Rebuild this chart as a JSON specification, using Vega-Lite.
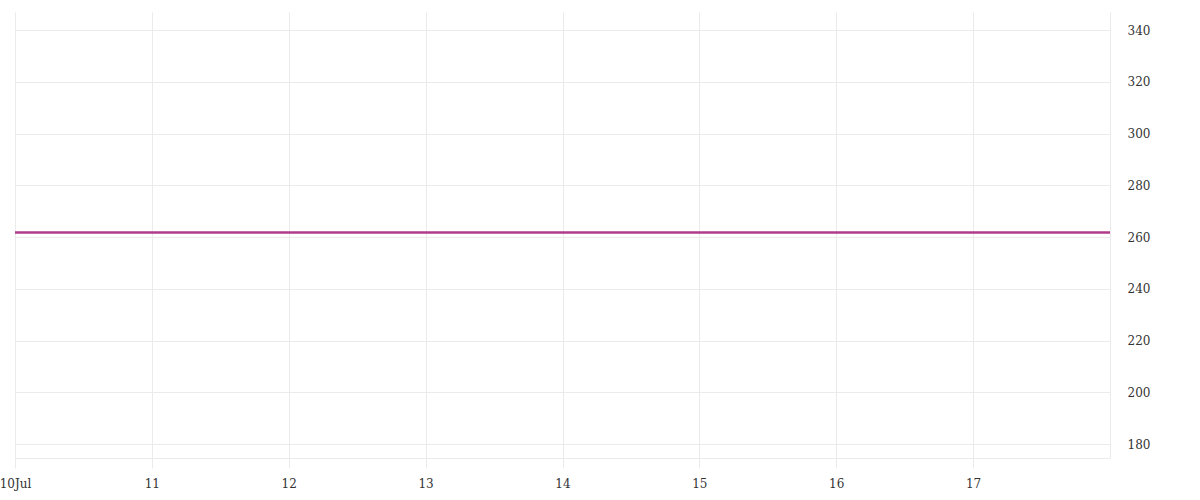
{
  "$schema": "https://vega.github.io/schema/vega-lite/v6.json",
  "width": 1095,
  "height": 446,
  "padding": {"left": 15, "top": 12, "right": 90, "bottom": 42},
  "autosize": {"type": "none"},
  "background": "white",
  "config": {
    "view": {"stroke": null},
    "font": "DejaVu Serif",
    "axis": {
      "labelFont": "DejaVu Serif",
      "labelFontSize": 12,
      "labelColor": "#333333",
      "gridColor": "#ebebeb",
      "domainColor": "#ebebeb",
      "tickColor": "#ebebeb"
    }
  },
  "data": {
    "values": [
      {"date": "2023-07-10T00:00:00", "value": 261.8},
      {"date": "2023-07-11T00:00:00", "value": 261.8},
      {"date": "2023-07-12T00:00:00", "value": 261.8},
      {"date": "2023-07-13T00:00:00", "value": 261.8},
      {"date": "2023-07-14T00:00:00", "value": 261.8},
      {"date": "2023-07-15T00:00:00", "value": 261.8},
      {"date": "2023-07-16T00:00:00", "value": 261.8},
      {"date": "2023-07-17T00:00:00", "value": 261.8},
      {"date": "2023-07-18T00:00:00", "value": 261.8}
    ]
  },
  "mark": {"type": "line", "color": "#b03a8c", "strokeWidth": 2.5},
  "encoding": {
    "x": {
      "field": "date",
      "type": "temporal",
      "scale": {"domain": [{"year": 2023, "month": 7, "date": 10}, {"year": 2023, "month": 7, "date": 18}], "nice": false},
      "axis": {
        "title": null,
        "values": [
          {"year": 2023, "month": 7, "date": 10},
          {"year": 2023, "month": 7, "date": 11},
          {"year": 2023, "month": 7, "date": 12},
          {"year": 2023, "month": 7, "date": 13},
          {"year": 2023, "month": 7, "date": 14},
          {"year": 2023, "month": 7, "date": 15},
          {"year": 2023, "month": 7, "date": 16},
          {"year": 2023, "month": 7, "date": 17}
        ],
        "labelExpr": "date(datum.value) == 10 ? '10Jul' : '' + date(datum.value)",
        "tickSize": 10,
        "labelPadding": 10,
        "domain": true,
        "grid": true,
        "labelFlush": false
      }
    },
    "y": {
      "field": "value",
      "type": "quantitative",
      "scale": {"domain": [174.6, 347], "nice": false, "zero": false},
      "axis": {
        "orient": "right",
        "title": null,
        "values": [180, 200, 220, 240, 260, 280, 300, 320, 340],
        "ticks": false,
        "labelPadding": 17,
        "domain": true,
        "grid": true
      }
    }
  }
}
